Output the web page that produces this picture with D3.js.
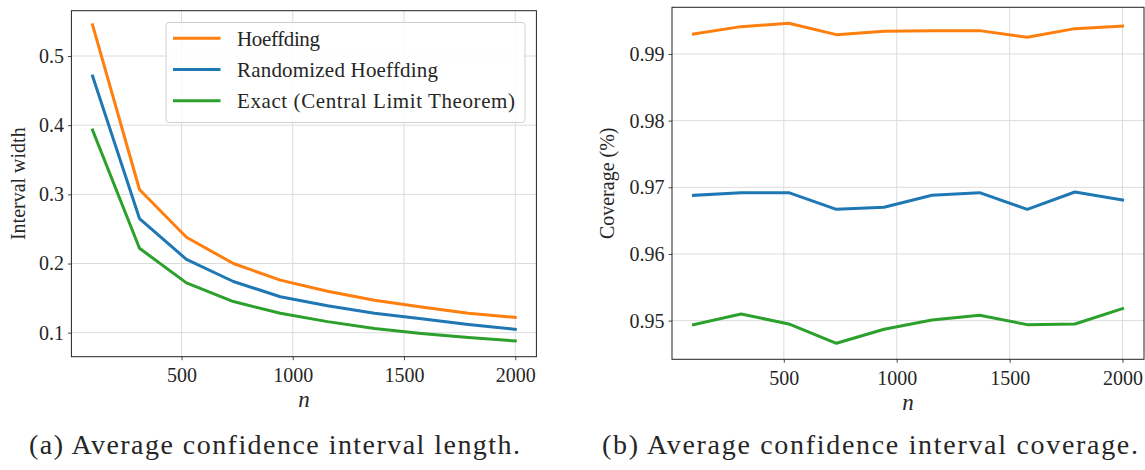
<!DOCTYPE html>
<html>
<head>
<meta charset="utf-8">
<script src="https://cdn.jsdelivr.net/npm/d3@7"></script>
<style>
  svg text, text, .serif { font-family: "Liberation Serif", "Tinos", "Times New Roman" !important; }
</style>
</head>
<body style="margin:0">
<svg id="chart" width="1145" height="470" font-family="Liberation Serif"></svg>
<script>
// ---------- data ----------
const nValues = [100, 311, 522, 733, 944, 1156, 1367, 1578, 1789, 2000];
const seriesNames = ["Hoeffding", "Randomized Hoeffding", "Exact (Central Limit Theorem)"];
const seriesColors = ["#ff7f0e", "#1f77b4", "#2ca02c"];

const widthHoeffding  = [0.545, 0.307, 0.238, 0.200, 0.176, 0.160, 0.147, 0.137, 0.128, 0.122];
const widthRandomized = [0.471, 0.265, 0.206, 0.174, 0.152, 0.139, 0.128, 0.120, 0.112, 0.105];
const widthExact      = [0.393, 0.222, 0.172, 0.145, 0.128, 0.116, 0.106, 0.099, 0.093, 0.088];

const covHoeffding  = [0.9930, 0.9941, 0.9946, 0.9929, 0.9934, 0.9935, 0.9935, 0.9925, 0.9938, 0.9942];
const covRandomized = [0.9688, 0.9692, 0.9692, 0.9667, 0.9670, 0.9688, 0.9692, 0.9667, 0.9693, 0.9681];
const covExact      = [0.9494, 0.9510, 0.9495, 0.9466, 0.9487, 0.9501, 0.9508, 0.9494, 0.9495, 0.9518];

const xTicks = [500, 1000, 1500, 2000];
const widthTicks = [0.1, 0.2, 0.3, 0.4, 0.5];
const covTicks = [0.95, 0.96, 0.97, 0.98, 0.99];

const captions = ["(a) Average confidence interval length.", "(b) Average confidence interval coverage."];

// ---------- drawing ----------
const TXT = "#262626";
const svg = d3.select("#chart");
svg.append("rect").attr("width", 1145).attr("height", 470).attr("fill", "#fff");

function serif(sel, size) {
  return sel.attr("class", "serif").attr("font-family", "Liberation Serif")
    .attr("font-size", size).attr("fill", TXT);
}

function panel(cfg) {
  const g = svg.append("g");
  const x = d3.scaleLinear().domain([5, 2095]).range([cfg.left, cfg.right]);
  const y = d3.scaleLinear().domain(cfg.yDomain).range([cfg.bottom, cfg.top]);

  // grid
  g.append("g").selectAll("line").data(xTicks).join("line")
    .attr("x1", d => x(d)).attr("x2", d => x(d))
    .attr("y1", cfg.top).attr("y2", cfg.bottom)
    .attr("stroke", "#dcdcdc").attr("stroke-width", 1);
  g.append("g").selectAll("line").data(cfg.yTicks).join("line")
    .attr("x1", cfg.left).attr("x2", cfg.right)
    .attr("y1", d => y(d)).attr("y2", d => y(d))
    .attr("stroke", "#dcdcdc").attr("stroke-width", 1);

  // axes
  const xAxis = d3.axisBottom(x).tickValues(xTicks).tickSize(3.5).tickPadding(4).tickFormat(d3.format("d"));
  const gx = g.append("g").attr("transform", `translate(0,${cfg.bottom})`).call(xAxis);
  const yAxis = d3.axisLeft(y).tickValues(cfg.yTicks).tickSize(3.5).tickPadding(4).tickFormat(cfg.yFormat);
  const gy = g.append("g").attr("transform", `translate(${cfg.left},0)`).call(yAxis);
  [gx, gy].forEach(a => {
    a.attr("font-family", "Liberation Serif").attr("font-size", 20);
    a.select(".domain").remove();
    a.selectAll(".tick line").attr("stroke", "#333").attr("stroke-width", 0.9);
    serif(a.selectAll(".tick text"), 20);
  });
  gx.selectAll(".tick text").attr("dy", "0.9em");

  // lines
  const line = d3.line().x((d, i) => x(nValues[i])).y(d => y(d));
  cfg.series.forEach((s, k) => {
    g.append("path").datum(s).attr("d", line)
      .attr("fill", "none").attr("stroke", seriesColors[k])
      .attr("stroke-width", 3).attr("stroke-linejoin", "round").attr("stroke-linecap", "square");
  });

  // frame
  g.append("rect").attr("x", cfg.left).attr("y", cfg.top)
    .attr("width", cfg.right - cfg.left).attr("height", cfg.bottom - cfg.top)
    .attr("fill", "none").attr("stroke", "#222").attr("stroke-width", 1);

  // labels
  serif(g.append("text"), 23).attr("x", (cfg.left + cfg.right) / 2).attr("y", cfg.nY)
    .attr("text-anchor", "middle").attr("font-style", "italic").text("n");
  serif(g.append("text"), 20)
    .attr("transform", `translate(${cfg.yLabelX},${(cfg.top + cfg.bottom) / 2}) rotate(-90)`)
    .attr("text-anchor", "middle").text(cfg.yLabel);
  return { x, y, g };
}

panel({
  left: 71.4, right: 536.4, top: 10.7, bottom: 356.7,
  yDomain: [0.0653, 0.5655], yTicks: widthTicks, yFormat: d3.format(".1f"),
  series: [widthHoeffding, widthRandomized, widthExact],
  yLabel: "Interval width", yLabelX: 25, nY: 407
});

panel({
  left: 672, right: 1144, top: 7.3, bottom: 359.3,
  yDomain: [0.9442, 0.9970], yTicks: covTicks, yFormat: d3.format(".2f"),
  series: [covHoeffding, covRandomized, covExact],
  yLabel: "Coverage (%)", yLabelX: 614, nY: 410
});

// legend
const lg = svg.append("g");
lg.append("rect").attr("x", 166).attr("y", 22.5).attr("width", 359).attr("height", 100)
  .attr("rx", 3).attr("fill", "#fff").attr("fill-opacity", 0.85)
  .attr("stroke", "#d0d0d0").attr("stroke-width", 1);
const rowY = d3.scalePoint().domain(seriesNames).range([38.3, 100.7]);
const legendTextEnd = [320, 438, 515];
seriesNames.forEach((name, k) => {
  lg.append("line").attr("x1", 173).attr("x2", 220.5)
    .attr("y1", rowY(name)).attr("y2", rowY(name))
    .attr("stroke", seriesColors[k]).attr("stroke-width", 3);
  serif(lg.append("text"), 21).attr("x", 237).attr("y", rowY(name)).attr("dy", "0.35em")
    .attr("textLength", legendTextEnd[k] - 237).attr("lengthAdjust", "spacing")
    .text(name);
});

// captions
const capX = [[29, 520], [602, 1138]];
captions.forEach((c, i) => {
  serif(svg.append("text"), 28).attr("x", capX[i][0]).attr("y", 454)
    .attr("textLength", capX[i][1] - capX[i][0]).attr("lengthAdjust", "spacing")
    .text(c);
});
</script>
</body>
</html>
